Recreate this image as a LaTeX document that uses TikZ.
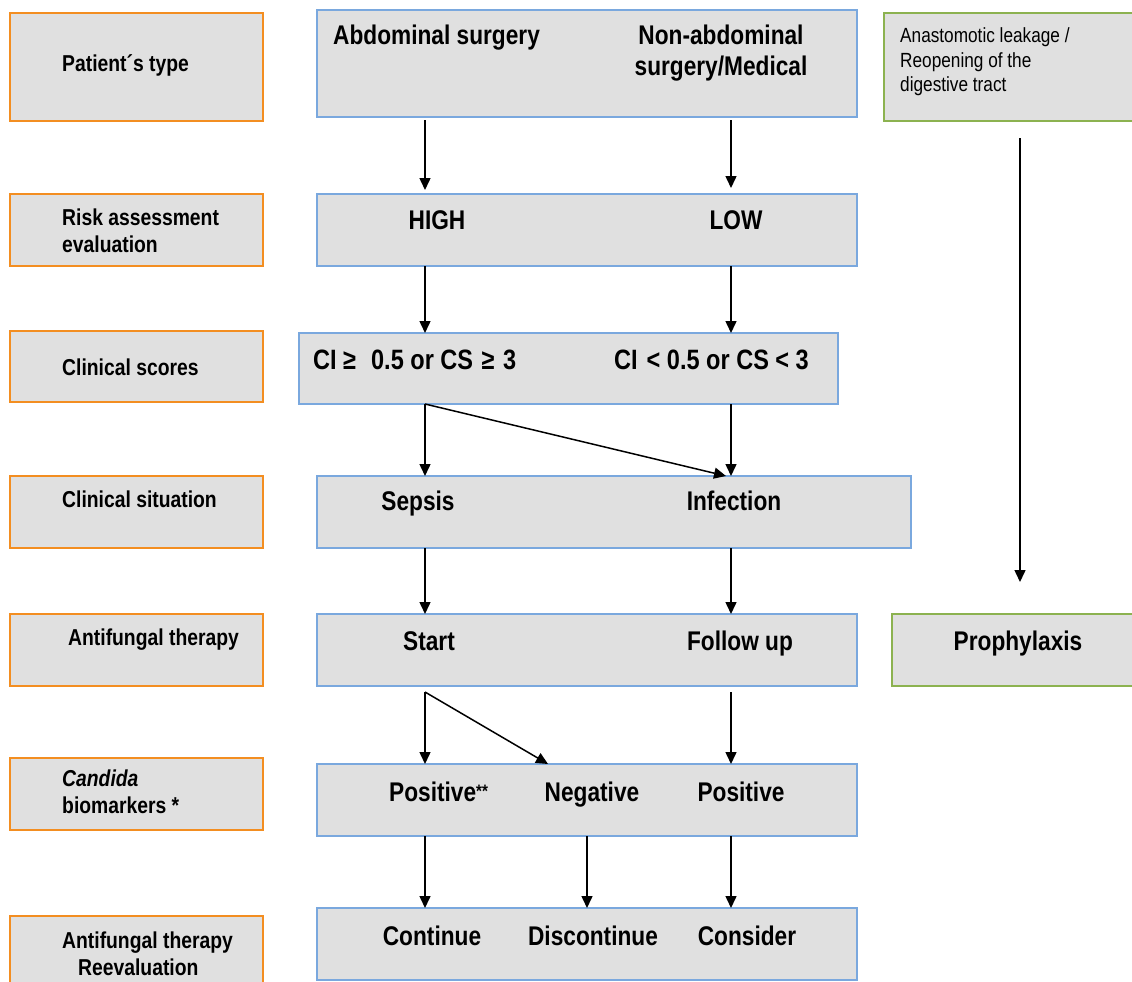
\documentclass[tikz,border=0pt]{standalone}
\usepackage{fontspec}
\setmainfont{Liberation Sans}[FakeStretch=0.84]
\usetikzlibrary{arrows.meta}
\definecolor{boxfill}{RGB}{224,224,224}
\definecolor{obord}{RGB}{243,142,33}
\definecolor{bbord}{RGB}{122,168,222}
\definecolor{gbord}{RGB}{140,178,80}
\begin{document}
\begin{tikzpicture}[x=1pt,y=-1pt,
 box/.style={draw, fill=boxfill, line width=1.2pt, anchor=north west, inner sep=0pt, outer sep=0pt},
 lbox/.style={box, draw=obord, minimum width=253pt, minimum height=72pt},
 mbox/.style={box, draw=bbord, minimum height=72pt},
 gbox/.style={box, draw=gbord},
 lab/.style={font=\fontsize{23}{27}\selectfont\bfseries, anchor=base west, inner sep=0pt},
 mt/.style={font=\fontsize{27}{30}\selectfont\bfseries, anchor=base, inner sep=0pt},
 gt/.style={font=\fontsize{20.5}{24}\selectfont, anchor=base west, inner sep=0pt},
 arr/.style={line width=1.5pt, -{Triangle[length=12pt,width=11pt]}}
]
\useasboundingbox (0,0) rectangle (1132,982);

% left labels
\node[lbox, minimum height=108pt] (l1) at (10,13) {};
\node[lab] (l1t) at (62,71) {Patient´s type};
\node[lbox] (l2) at (10,194) {};
\node[lab] (l2a) at (62,225) {Risk assessment};
\node[lab] (l2b) at (62,252) {evaluation};
\node[lbox, minimum height=71pt] (l3) at (10,331) {};
\node[lab] (l3t) at (62,375) {Clinical scores};
\node[lbox] (l4) at (10,476) {};
\node[lab] (l4t) at (62,507) {Clinical situation};
\node[lbox] (l5) at (10,614) {};
\node[lab] (l5t) at (68,645) {Antifungal therapy};
\node[lbox] (l6) at (10,758) {};
\node[lab] (l6a) at (62,786) {\itshape Candida};
\node[lab] (l6b) at (62,813) {biomarkers *};
\node[lbox] (l7) at (10,916) {};
\node[lab] (l7a) at (62,948) {Antifungal therapy};
\node[lab] (l7b) at (78,975) {Reevaluation};

% middle boxes
\node[mbox, minimum width=540pt, minimum height=107pt] (b1) at (317,10) {};
\node[mt, anchor=base west] (t1a) at (333,45) {Abdominal surgery};
\node[mt] (t1b) at (721,45) {Non-abdominal};
\node[mt] (t1c) at (721,75) {surgery/Medical};

\node[mbox, minimum width=540pt] (b2) at (317,194) {};
\node[mt] (t2a) at (437,229) {HIGH};
\node[mt] (t2b) at (736,229) {LOW};

\node[mbox, minimum width=539pt, minimum height=71pt] (b3) at (299,333) {};
\node[mt, font=\fontsize{28}{30}\selectfont\bfseries, anchor=base west] (t3a) at (313,369) {CI ≥\hspace{15pt}0.5 or CS\hspace{2pt} ≥\hspace{2pt} 3};
\node[mt, font=\fontsize{28}{30}\selectfont\bfseries, anchor=base west] (t3b) at (614,369) {CI\hspace{9pt}< 0.5 or CS < 3};

\node[mbox, minimum width=594pt] (b4) at (317,476) {};
\node[mt] (t4a) at (418,510) {Sepsis};
\node[mt] (t4b) at (734,510) {Infection};

\node[mbox, minimum width=540pt] (b5) at (317,614) {};
\node[mt] (t5a) at (429,650) {Start};
\node[mt] (t5b) at (740,650) {Follow up};

\node[mbox, minimum width=540pt] (b6) at (317,764) {};
\node[mt, anchor=base west] (t6a) at (389,801) {Positive\raisebox{4pt}{\fontsize{18}{18}\selectfont **}};
\node[mt] (t6b) at (592,801) {Negative};
\node[mt] (t6c) at (741,801) {Positive};

\node[mbox, minimum width=540pt] (b7) at (317,908) {};
\node[mt] (t7a) at (432,945) {Continue};
\node[mt] (t7b) at (593,945) {Discontinue};
\node[mt] (t7c) at (747,945) {Consider};

% right boxes
\node[gbox, minimum width=260pt, minimum height=108pt] (g1) at (884,13) {};
\node[gt] (g1a) at (900,43) {Anastomotic leakage /};
\node[gt] (g1b) at (900,67) {Reopening of the};
\node[gt] (g1c) at (900,91) {digestive tract};
\node[gbox, minimum width=250pt, minimum height=72pt] (g2) at (892,614) {};
\node[mt] (g2t) at (1018,650) {Prophylaxis};

% columns
\coordinate (cA) at (425,0);
\coordinate (cB) at (731,0);
\coordinate (cN) at (587,0);
\coordinate (cD) at (548,0);
\coordinate (cR) at (1020,0);
\coordinate (cE) at (726,0);

% arrows
\draw[arr] ([yshift=-3pt]b1.south -| cA) -- ([yshift=4pt]b2.north -| cA);
\draw[arr] ([yshift=-3pt]b1.south -| cB) -- ([yshift=6pt]b2.north -| cB);
\draw[arr] (b2.south -| cA) -- (b3.north -| cA);
\draw[arr] (b2.south -| cB) -- (b3.north -| cB);
\draw[arr] (b3.south -| cA) -- (b4.north -| cA);
\draw[arr] (b3.south -| cB) -- (b4.north -| cB);
\draw[arr] (b3.south -| cA) -- (b4.north -| cE);
\draw[arr] (b4.south -| cA) -- (b5.north -| cA);
\draw[arr] (b4.south -| cB) -- (b5.north -| cB);
\draw[arr] ([yshift=-6pt]b5.south -| cA) -- (b6.north -| cA);
\draw[arr] ([yshift=-6pt]b5.south -| cA) -- (b6.north -| cD);
\draw[arr] ([yshift=-6pt]b5.south -| cB) -- (b6.north -| cB);
\draw[arr] (b6.south -| cA) -- (b7.north -| cA);
\draw[arr] (b6.south -| cN) -- (b7.north -| cN);
\draw[arr] (b6.south -| cB) -- (b7.north -| cB);
\draw[arr] ([yshift=-17pt]g1.south -| cR) -- ([yshift=32pt]g2.north -| cR);
\end{tikzpicture}
\end{document}
